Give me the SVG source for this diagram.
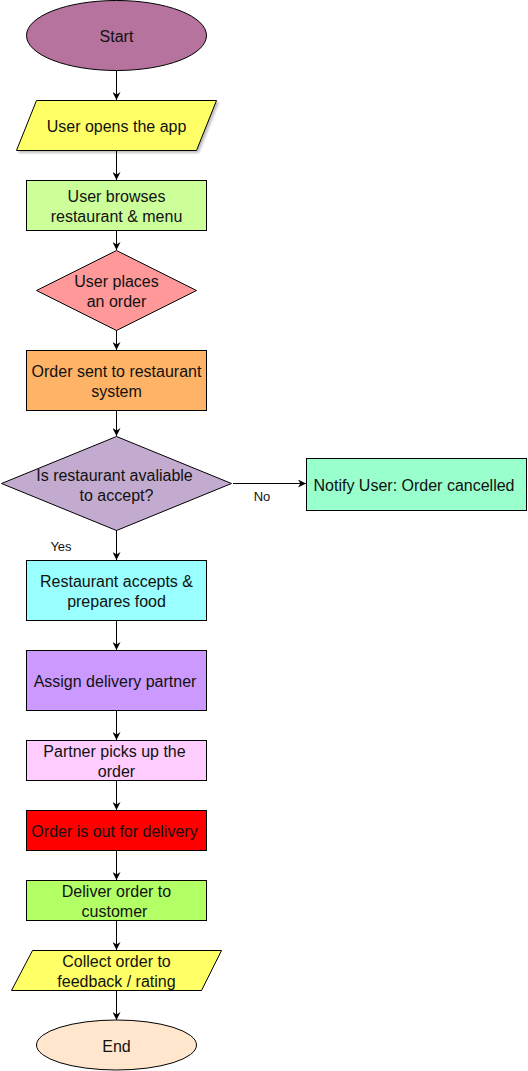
<svg xmlns="http://www.w3.org/2000/svg" width="528" height="1071" viewBox="0 0 528 1071">
<defs>
<marker id="arr" viewBox="0 0 10 10" refX="10" refY="5" markerWidth="8" markerHeight="8" markerUnits="userSpaceOnUse" orient="auto">
<path d="M0,0 L10,5 L0,10 L3,5 Z" fill="#000"/>
</marker>
<filter id="sh" x="-10%" y="-10%" width="130%" height="140%">
<feDropShadow dx="2" dy="2" stdDeviation="1.2" flood-color="#000" flood-opacity="0.25"/>
</filter>
</defs>
<style>
.s{stroke:#000;stroke-width:1}
text{font-family:"Liberation Sans",Arial,sans-serif;font-size:16px;fill:#111;text-anchor:middle;dominant-baseline:central}
.lbl{font-size:13px}
.c{fill:none;stroke:#000;stroke-width:1;marker-end:url(#arr)}
</style>
<rect width="528" height="1071" fill="#fff"/>
<g id="connectors">
<line class="c" x1="116.5" y1="70.5" x2="116.5" y2="100"/>
<line class="c" x1="116.5" y1="150" x2="116.5" y2="180"/>
<line class="c" x1="116.5" y1="230" x2="116.5" y2="250"/>
<line class="c" x1="116.5" y1="330" x2="116.5" y2="350"/>
<line class="c" x1="116.5" y1="410" x2="116.5" y2="436"/>
<line class="c" x1="233" y1="483.5" x2="306" y2="483.5"/>
<line class="c" x1="116.5" y1="530" x2="116.5" y2="560"/>
<line class="c" x1="116.5" y1="620" x2="116.5" y2="650"/>
<line class="c" x1="116.5" y1="710" x2="116.5" y2="740"/>
<line class="c" x1="116.5" y1="780" x2="116.5" y2="810"/>
<line class="c" x1="116.5" y1="850" x2="116.5" y2="880"/>
<line class="c" x1="116.5" y1="920" x2="116.5" y2="950"/>
<line class="c" x1="116.5" y1="990" x2="116.5" y2="1020"/>
<text class="lbl" x="262" y="496">No</text>
<text class="lbl" x="61" y="546">Yes</text>
</g>
<g id="start">
<ellipse class="s" cx="116.5" cy="35.5" rx="90" ry="35" fill="#B5739D"/>
<text x="116.5" y="36">Start</text>
</g>
<g id="open-app">
<polygon class="s" points="36.5,100.5 216.5,100.5 196.5,150.5 16.5,150.5" fill="#FFFF66" filter="url(#sh)"/>
<text x="116.5" y="126">User opens the app</text>
</g>
<g id="browse">
<rect class="s" x="26.5" y="180.5" width="180" height="50" fill="#CCFF99"/>
<text x="116.5" y="196">User browses</text>
<text x="116.5" y="216">restaurant &amp; menu</text>
</g>
<g id="place-order">
<polygon class="s" points="116.5,250.5 196.5,290.5 116.5,330.5 36.5,290.5" fill="#FF9999"/>
<text x="116.5" y="281.5">User places</text>
<text x="116.5" y="301.5">an order</text>
</g>
<g id="sent">
<rect class="s" x="26.5" y="350.5" width="180" height="60" fill="#FFB366"/>
<text x="116.5" y="371">Order sent to restaurant</text>
<text x="116.5" y="391">system</text>
</g>
<g id="available">
<polygon class="s" points="116.5,436.5 231.5,483.5 116.5,530.5 1.5,483.5" fill="#C3ABD0"/>
<text x="114.5" y="475">Is restaurant avaliable</text>
<text x="116.5" y="495">to accept?</text>
</g>
<g id="cancelled">
<rect class="s" x="306.5" y="458.5" width="220" height="52" fill="#99FFCC"/>
<text x="414" y="485">Notify User: Order cancelled</text>
</g>
<g id="accepts">
<rect class="s" x="26.5" y="560.5" width="180" height="60" fill="#99FFFF"/>
<text x="116.5" y="581">Restaurant accepts &amp;</text>
<text x="116.5" y="601">prepares food</text>
</g>
<g id="assign">
<rect class="s" x="26.5" y="650.5" width="180" height="60" fill="#CC99FF"/>
<text x="115" y="681">Assign delivery partner</text>
</g>
<g id="pickup">
<rect class="s" x="26.5" y="740.5" width="180" height="40" fill="#FFCCFF"/>
<text x="114.5" y="751">Partner picks up the</text>
<text x="116.5" y="771">order</text>
</g>
<g id="out">
<rect class="s" x="26.5" y="810.5" width="180" height="40" fill="#FF0000"/>
<text x="114.5" y="831">Order is out for delivery</text>
</g>
<g id="deliver">
<rect class="s" x="26.5" y="880.5" width="180" height="40" fill="#B3FF66"/>
<text x="116.5" y="891">Deliver order to</text>
<text x="114.5" y="911">customer</text>
</g>
<g id="feedback">
<polygon class="s" points="32.5,950.5 221.5,950.5 201.5,990.5 11.5,990.5" fill="#FFFF66"/>
<text x="116.5" y="961.5">Collect order to</text>
<text x="116.5" y="981.5">feedback / rating</text>
</g>
<g id="end">
<ellipse class="s" cx="116.5" cy="1045" rx="80" ry="25" fill="#FFE6CC"/>
<text x="116.5" y="1046">End</text>
</g>
</svg>
